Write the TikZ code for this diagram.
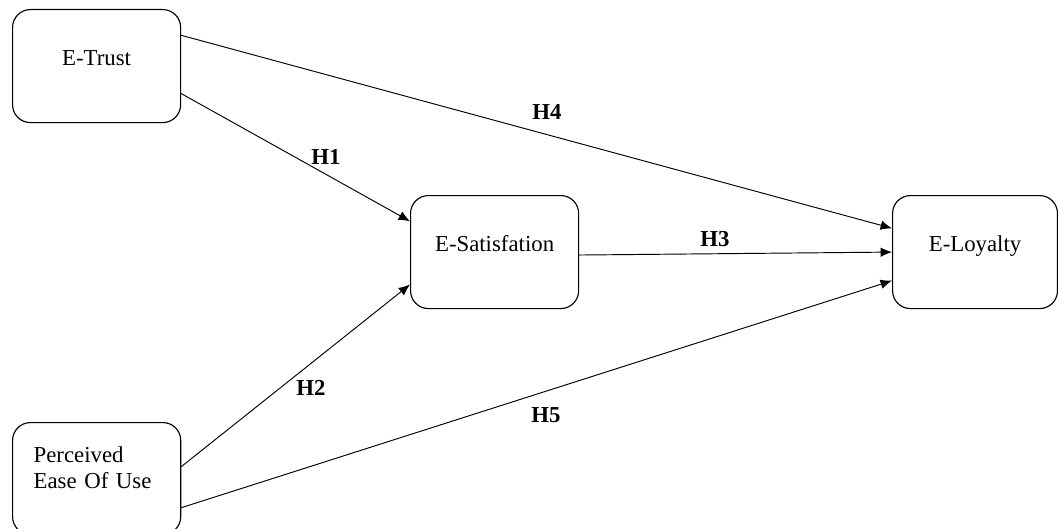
\documentclass[tikz,border=0pt]{standalone}
\usepackage{fontspec}
\setmainfont{Liberation Serif}
\usetikzlibrary{arrows.meta}

\begin{document}
\begin{tikzpicture}[x=0.0185cm, y=-0.0185cm, >={Latex[length=6pt,width=5pt]},
    every node/.style={font=\fontsize{12}{13.2}\selectfont},
    construct/.style={draw, line width=0.6pt, rounded corners=0.33cm,
      anchor=north west, minimum width=3.108cm, minimum height=2.09cm,
      text height=0.3cm, text depth=0.32cm},
    hyp/.style={->, line width=0.5pt},
    hlabel/.style={font=\fontsize{12}{13.2}\selectfont\bfseries}]
        \useasboundingbox (0,0) rectangle (1058,529);
        % Constructs
        \node[construct] (trust) at (12,9) {E-Trust};
        \node[construct] (sat) at (410,195) {E-Satisfation};
        \node[construct, minimum width=3.05cm] (loyal) at (892,195) {E-Loyalty};
        \node[construct, minimum height=2.07cm, align=left, text width=2.33cm,
          inner xsep=0.39cm, text height=, text depth=0.87cm] (ease) at (12,422)
          {Perceived\\Ease Of Use};
        % Hypotheses
        \draw[hyp] (trust.-18) -- (sat.160.6);
        \draw[hyp] (ease.8.8) -- (sat.201.7);
        \draw[hyp] (sat.-2.4) -- (loyal.180);
        \draw[hyp] (trust.20) -- (loyal.164.1);
        \draw[hyp] (ease.-19.7) -- (loyal.199);
        \node[hlabel] (h1) at (326,157) {H1};
        \node[hlabel] (h2) at (311,388) {H2};
        \node[hlabel] (h3) at (715,239) {H3};
        \node[hlabel] (h4) at (547,112) {H4};
        \node[hlabel] (h5) at (546,415) {H5};
      \end{tikzpicture}
\end{document}
